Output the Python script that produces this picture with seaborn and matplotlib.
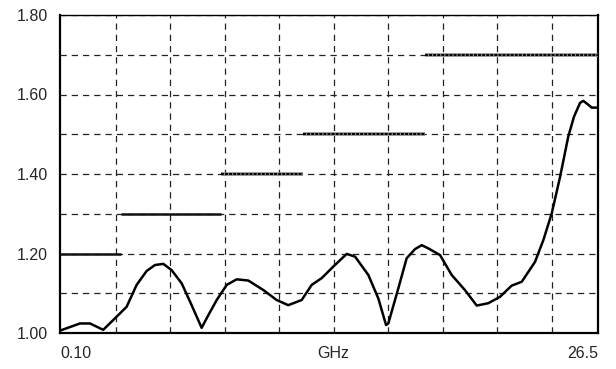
import numpy as np
import pandas as pd
import matplotlib
matplotlib.use("Agg")
from matplotlib import pyplot as plt
from matplotlib.ticker import FixedLocator
import seaborn as sns

# measured trace (GHz, VSWR)
freq_ghz = [0.10, 1.08, 1.57, 2.22, 2.80, 3.37, 3.86, 4.35, 4.76, 5.17,
            5.58, 6.07, 6.56, 7.05, 7.38, 7.79, 8.28, 8.77, 9.34, 10.08,
            10.73, 11.30, 11.96, 12.45, 12.94, 13.51, 14.17, 14.58, 15.23, 15.72,
            16.10, 16.21, 16.70, 17.11, 17.52, 17.85, 18.17, 18.75, 19.32, 19.97,
            20.55, 21.12, 21.69, 22.26, 22.76, 23.41, 23.82, 24.23, 24.64, 25.04,
            25.32, 25.62, 25.78, 25.98, 26.19, 26.50]
vswr = [1.006, 1.024, 1.024, 1.008, 1.037, 1.066, 1.121, 1.156, 1.171, 1.174,
        1.158, 1.125, 1.070, 1.013, 1.045, 1.083, 1.121, 1.135, 1.132, 1.108,
        1.083, 1.070, 1.083, 1.121, 1.138, 1.167, 1.199, 1.192, 1.146, 1.087,
        1.020, 1.024, 1.112, 1.188, 1.211, 1.221, 1.213, 1.196, 1.146, 1.108,
        1.069, 1.075, 1.091, 1.119, 1.129, 1.179, 1.234, 1.301, 1.393, 1.494,
        1.544, 1.579, 1.584, 1.576, 1.567, 1.567]

# spec limit segments
limit_start = [0.10, 3.10, 8.00, 12.00, 18.00]
limit_stop = [3.10, 8.00, 12.00, 18.00, 26.50]
limit_value = [1.20, 1.30, 1.40, 1.50, 1.70]

x_labels = ["0.10", "GHz", "26.5"]
x_label_pos = [0.10, 13.5, 26.5]
y_labels = ["1.00", "1.20", "1.40", "1.60", "1.80"]

sns.set_style("white")
plt.rcParams['font.family'] = ['Liberation Sans', 'DejaVu Sans']

fig = plt.figure(figsize=(6.16, 3.69), dpi=100)
ax = fig.add_axes([60 / 616, 1 - 333 / 369, 538 / 616, 318 / 369])

# limit lines: first two solid, the rest with a dotted texture
ax.hlines(limit_value[:2], limit_start[:2], limit_stop[:2], colors="#111111", linewidth=1.8, zorder=4)
ax.hlines(limit_value[2:], limit_start[2:], limit_stop[2:], colors="#8a8a8a", linewidth=2.6, zorder=3)
ax.hlines(limit_value[2:], limit_start[2:], limit_stop[2:], colors="black", linewidth=1.4,
          linestyles=(0, (1.5, 0.6)), zorder=4)

df = pd.DataFrame({"freq": freq_ghz, "vswr": vswr})
sns.lineplot(data=df, x="freq", y="vswr", color="black", linewidth=1.8, ax=ax, zorder=5)

ax.set_xlim(0.10, 26.5)
ax.set_ylim(1.0, 1.8)

# grid
ax.xaxis.set_major_locator(FixedLocator(x_label_pos))
ax.set_xticklabels(x_labels)
ax.xaxis.set_minor_locator(FixedLocator(list(2.83 + 2.674 * np.arange(9))))
ax.set_yticks(np.arange(1.0, 1.81, 0.2))
ax.set_yticklabels(y_labels)
ax.yaxis.set_minor_locator(FixedLocator(list(np.arange(1.1, 1.75, 0.2))))
grid_kw = dict(color="#222222", linewidth=0.9, linestyle=(0, (5, 4)))
ax.grid(True, axis="y", which="both", **grid_kw)
ax.grid(True, axis="x", which="minor", **grid_kw)
ax.grid(False, axis="x", which="major")
ax.tick_params(which="both", length=0)
ax.tick_params(axis="y", pad=9, labelsize=11.5)
ax.tick_params(axis="x", pad=9, labelsize=11.5)
tl = ax.get_xticklabels()
tl[0].set_horizontalalignment("left")
tl[2].set_horizontalalignment("right")

ax.set_xlabel("")
ax.set_ylabel("")
for side in ["left", "bottom", "right"]:
    ax.spines[side].set_linewidth(1.6)
    ax.spines[side].set_color("black")
ax.spines["top"].set_linewidth(1.0)
ax.spines["top"].set_color("black")

fig.savefig("out.png", dpi=100)
